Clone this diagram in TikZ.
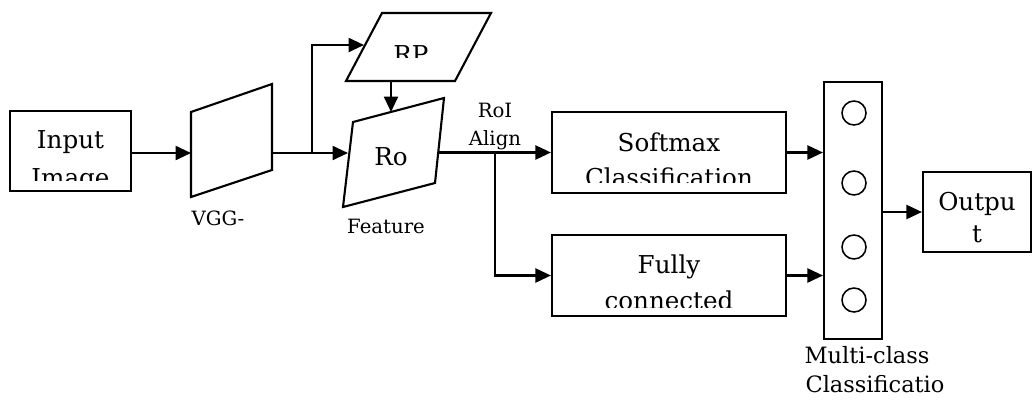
\documentclass[tikz,border=0pt]{standalone}
\usepackage{fontspec}
\setmainfont{DejaVu Serif}
\usetikzlibrary{arrows.meta}
\tikzset{
  box/.style={draw, line width=1.5pt, inner sep=0pt},
  dot/.style={draw, circle, line width=1.1pt, minimum size=0.6cm, inner sep=0pt},
  wire/.style={line width=1.5pt},
  link/.style={line width=1.5pt, -{Triangle[length=11pt,width=10pt]}},
  big/.style={font=\fontsize{17.5}{20}\selectfont, inner sep=0pt, anchor=base},
  small/.style={font=\fontsize{14}{17}\selectfont, inner sep=0pt, anchor=base},
  mid/.style={font=\fontsize{16}{19}\selectfont, inner sep=0pt, anchor=base},
}
\begin{document}
\begin{tikzpicture}[x=0.025cm, y=-0.025cm]
  \useasboundingbox (0,0) rectangle (1032,403);
  \node[box, minimum width=3.025cm, minimum height=2cm] (input) at (70.5,151) {};
  \node[box, minimum width=5.85cm, minimum height=2.025cm] (softmax) at (669,152.5) {};
  \node[box, minimum width=5.85cm, minimum height=2.025cm] (fully) at (669,275.5) {};
  \node[box, minimum width=1.45cm, minimum height=6.425cm] (column) at (853,210.5) {};
  \node[box, minimum width=2.7cm, minimum height=2cm] (output) at (977,212) {};
  \foreach \y [count=\i] in {113,183,247,300}
    \node[dot] (c\i) at (854,\y) {};
  \draw[wire] (191,112) -- (272,84) -- (272,170) -- (191,197) -- cycle;
  \draw[wire] (346,81) -- (382,13) -- (491,13) -- (455,81) -- cycle;
  \draw[wire] (353,122) -- (444,98) -- (435,183) -- (343,207) -- cycle;
  \coordinate (vgg-w) at (191,153);
  \coordinate (vgg-e) at (272,153);
  \coordinate (split) at (312,153);
  \coordinate (rp-w) at (364,45);
  \coordinate (rp-s) at (391,81);
  \coordinate (ro-n) at (391,112);
  \coordinate (ro-w) at (348,153);
  \coordinate (ro-e) at (438,152.5);
  \coordinate (align) at (495,152.5);

  \draw[link] (input.east |- vgg-w) -- (vgg-w);
  \draw[link] (vgg-e) -- (ro-w);
  \draw[link] (split) |- (rp-w);
  \draw[link] (rp-s) -- (ro-n);
  \draw[link] (ro-e) -- (ro-e -| softmax.west);
  \draw[link] (align) |- (fully.west);
  \draw[link] (softmax.east) -- (softmax.east -| column.west);
  \draw[link] (fully.east) -- (fully.east -| column.west);
  \draw[link] (column.east |- output.west) -- (output.west);

  \begin{scope}
    \clip (10,111) rectangle (131,180);
    \node[big] (input-a) at (70.5,148) {Input};
    \node[big] (input-b) at (70.5,186) {Image};
  \end{scope}
  \begin{scope}
    \clip (552,112) rectangle (786,182);
    \node[big] (softmax-a) at (669,151) {Softmax};
    \node[big] (softmax-b) at (669,186) {Classification};
  \end{scope}
  \begin{scope}
    \clip (552,235) rectangle (786,307);
    \node[big] (fully-a) at (669,273) {Fully};
    \node[big] (fully-b) at (669,309) {connected};
  \end{scope}
  \begin{scope}
    \clip (923,172) rectangle (1031,243);
    \node[big] (output-a) at (977,210) {Outpu};
    \node[big] (output-b) at (977,242) {t};
  \end{scope}
  \begin{scope}
    \clip (382,13) rectangle (491,57);
    \node[big] (rp-t) at (411,63) {RP};
  \end{scope}
  \node[big] (ro-t) at (391,165) {Ro};
  \node[small] (vgg-t) at (218,225) {VGG-};
  \node[small] (feat-t) at (386,233) {Feature};
  \node[small] (roi-a) at (495,117) {RoI};
  \node[small] (roi-b) at (495,145) {Align};
  \node[mid] (multi-a) at (867,363) {Multi-class};
  \node[mid] (multi-b) at (875,392) {Classificatio};
\end{tikzpicture}
\end{document}
